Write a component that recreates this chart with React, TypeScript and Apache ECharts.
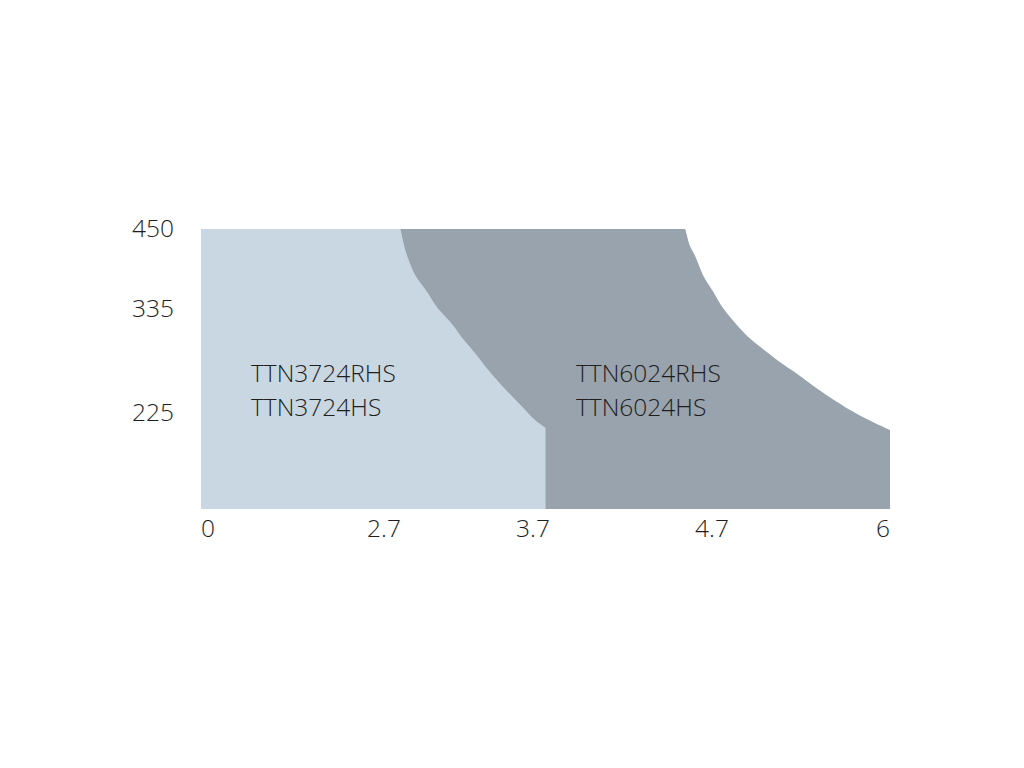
import React, { useEffect, useRef } from "react";
import * as echarts from "echarts";

// Tick labels (length in m, load in kg)
const lengthTicks = [0, 2.7, 3.7, 4.7, 6];
const loadTicks = [225, 335, 450];

// TTN3724RHS / TTN3724HS envelope
const ttn3724Length = [0, 2.81, 2.83, 2.86, 2.91, 2.99, 3.06, 3.16, 3.23, 3.31, 3.4, 3.5, 3.61, 3.71, 3.77];
const ttn3724Load = [450, 450, 430, 409, 384, 360, 337, 319, 304, 289, 271, 253, 235, 210, 191];

// TTN6024RHS / TTN6024HS envelope
const ttn6024Length = [0, 4.55, 4.57, 4.61, 4.65, 4.71, 4.78, 4.88, 4.98, 5.1, 5.19, 5.31, 5.48, 5.67, 5.82, 6];
const ttn6024Load = [450, 450, 430, 409, 384, 360, 337, 319, 304, 290, 280, 268, 250, 232, 214, 186];

const seriesNames = ["TTN3724RHS\nTTN3724HS", "TTN6024RHS\nTTN6024HS"];

// The printed chart uses a non-uniform (schematic) axis; piecewise-linear mapping
const xKnotReal = [0, 2.7, 3.7, 4.7, 6];
const xKnotPos = [0, 183, 332, 511, 689];
const yKnotReal = [0, 225, 335, 450];
const yKnotPos = [0, 95.5, 199.5, 280];

function warp(v: number, real: number[], pos: number[]) {
  for (let i = 0; i < real.length - 1; i++) {
    if (v <= real[i + 1] || i === real.length - 2) {
      const t = (v - real[i]) / (real[i + 1] - real[i]);
      return pos[i] + t * (pos[i + 1] - pos[i]);
    }
  }
  return pos[pos.length - 1];
}
const wx = (v: number) => warp(v, xKnotReal, xKnotPos);
const wy = (v: number) => warp(v, yKnotReal, yKnotPos);

function labelFor(v: number, ticks: number[], f: (n: number) => number) {
  let best = ticks[0];
  let bd = Infinity;
  ticks.forEach((t) => {
    const d = Math.abs(f(t) - v);
    if (d < bd) {
      bd = d;
      best = t;
    }
  });
  return String(best);
}

const FONT = "'Open Sans', 'Noto Sans', sans-serif";
const FS = 24.5;

// flat part (straight) + curved part (smoothed), same colour, overlapping slightly
function envelopeSeries(name: string, data: number[][], color: string, z: number) {
  const base = {
    type: "line",
    name,
    showSymbol: false,
    symbol: "none",
    lineStyle: { width: 0 },
    areaStyle: { color, opacity: 1, origin: "start" },
    z,
    silent: true,
  };
  return [
    { ...base, data: data.slice(0, 3), smooth: false },
    { ...base, data: data.slice(1), smooth: 0.3 },
  ];
}

export default function App() {
  const ref = useRef<HTMLDivElement>(null);
  useEffect(() => {
    if (!ref.current) return;
    const chart = echarts.init(ref.current, undefined, { renderer: "svg" });
    const d3724 = ttn3724Length.map((x, i) => [wx(x), wy(ttn3724Load[i])]);
    const d6024 = ttn6024Length.map((x, i) => [wx(x), wy(ttn6024Load[i])]);
    chart.setOption({
      animation: false,
      backgroundColor: "#ffffff",
      grid: { left: 201, right: 134, top: 229, bottom: 259 },
      xAxis: {
        type: "value",
        min: 0,
        max: xKnotPos[xKnotPos.length - 1],
        axisLine: { show: false },
        axisTick: { show: false },
        splitLine: { show: false },
        axisLabel: {
          customValues: lengthTicks.map(wx),
          formatter: (v: number) => labelFor(v, lengthTicks, wx),
          showMinLabel: true,
          showMaxLabel: true,
          alignMinLabel: "left",
          alignMaxLabel: "right",
          margin: 6,
          fontFamily: FONT,
          fontSize: FS,
          fontWeight: 300,
          color: "#1e1e1e",
        },
      },
      yAxis: {
        type: "value",
        min: 0,
        max: yKnotPos[yKnotPos.length - 1],
        axisLine: { show: false },
        axisTick: { show: false },
        splitLine: { show: false },
        axisLabel: {
          customValues: loadTicks.map(wy),
          formatter: (v: number) => `{a|${labelFor(v, loadTicks, wy)}}`,
          margin: 27,
          rich: {
            a: {
              fontFamily: FONT,
              fontSize: FS,
              fontWeight: 300,
              color: "#1e1e1e",
              padding: [0, 0, 4, 0],
            },
          },
          fontFamily: FONT,
          fontSize: FS,
          fontWeight: 300,
          color: "#1e1e1e",
        },
      },
      series: [
        ...envelopeSeries(seriesNames[1], d6024, "#98a3ad", 1),
        ...envelopeSeries(seriesNames[0], d3724, "#c9d7e2", 2),
      ],
      graphic: [
        {
          type: "text",
          left: 251,
          top: 355,
          z: 10,
          style: {
            text: seriesNames[0],
            font: `300 ${FS}px ${FONT}`,
            fill: "#1e1e1e",
            lineHeight: 34,
          },
        },
        {
          type: "text",
          left: 576,
          top: 355,
          z: 10,
          style: {
            text: seriesNames[1],
            font: `300 ${FS}px ${FONT}`,
            fill: "#1e1e1e",
            lineHeight: 34,
          },
        },
      ],
    });
    return () => chart.dispose();
  }, []);
  return (
    <div
      ref={ref}
      style={{ position: "fixed", left: 0, top: 0, width: 1024, height: 768 }}
    />
  );
}
